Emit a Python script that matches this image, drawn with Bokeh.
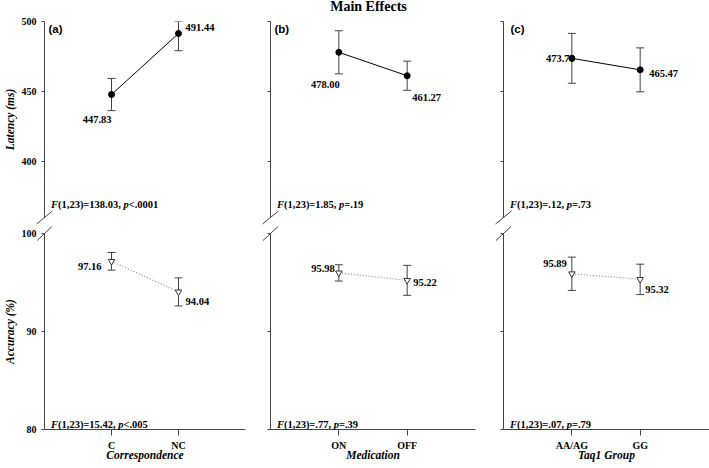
from bokeh.plotting import figure
from bokeh.layouts import gridplot
from bokeh.models import FixedTicker, Whisker, TeeHead, ColumnDataSource, Range1d
from bokeh.core.properties import value
from bokeh.embed import file_html
from bokeh.resources import INLINE

# ---------------- data ----------------
panel_tags = ["(a)", "(b)", "(c)"]
x_titles = ["Correspondence", "Medication", "Taq1 Group"]
categories = [["C", "NC"], ["ON", "OFF"], ["AA/AG", "GG"]]
latency_mean = [[447.83, 491.44], [478.00, 461.27], [473.70, 465.47]]
latency_err = [[11.5, 12.3], [15.4, 10.4], [17.8, 15.7]]
accuracy_mean = [[97.16, 94.04], [95.98, 95.22], [95.89, 95.32]]
accuracy_err = [[0.9, 1.43], [0.83, 1.53], [1.7, 1.55]]
latency_stats = [("138.03", "<.0001"), ("1.85", "=.19"), (".12", "=.73")]
accuracy_stats = [("15.42", "<.005"), (".77", "=.39"), (".07", "=.79")]
latency_ticks = [400, 450, 500]
accuracy_ticks = [80, 90, 100]
latency_range = (360, 500)
accuracy_range = (80, 100)
title_text = "Main Effects"
y_titles = ["Latency (ms)", "Accuracy (%)"]

# ---------------- styles / layout ----------------
SERIF = "Liberation Serif"
SANS = "Liberation Sans"
AXC = "#444444"
fig_w = [258, 233, 218]
bord_l = [40, 12, 12]
bord_r = [13, 16, 0]
frame_w = [fig_w[i] - bord_l[i] - bord_r[i] for i in range(3)]
PPU_X = 205 / 3.0
FRAME_H = 196
tag_dx = [4, 4, 7]
# (align, x_offset, y_offset) for value labels
lat_lab = [[("right", 0, 25), ("left", 7, -6)],
           [("right", 1, 32), ("left", 5, 22)],
           [("right", 3, 0), ("left", 9, 4)]]
acc_lab = [[("right", -10, 5), ("left", 7, 10)],
           [("right", -4, -4), ("left", 6, 2)],
           [("right", -5, -10), ("left", 5, 10)]]

BOLD_W = {'(': 333, ')': 333, ',': 250, '.': 250, '=': 570, '<': 570, ' ': 250}
for d in "0123456789":
    BOLD_W[d] = 500
ITAL_W = {'F': 667, 'p': 500}
FS_SIZE = 10.5


def seg_w(s, italic):
    tab = ITAL_W if italic else BOLD_W
    return sum(tab.get(ch, 500) for ch in s) * FS_SIZE / 1000.0


def stat_text(p, x0, y0, stat, y_off):
    segs = ["F", "(1,23)=" + stat[0] + ", ", "p", stat[1]]
    ital = [True, False, True, False]
    offs = []
    cur = 6.5
    for s, it in zip(segs, ital):
        offs.append(cur)
        cur += seg_w(s, it)
    p.text(x=[x0] * 4, y=[y0] * 4, text=segs, x_offset=offs, y_offset=[y_off] * 4,
           text_font=value(SERIF), text_font_size=f"{FS_SIZE}px",
           text_font_style=["bold italic" if it else "bold" for it in ital],
           text_align="left", text_baseline="alphabetic", text_color="black", level="overlay")


def style_yaxis(p, ticks, col, title):
    ax = p.yaxis[0]
    ax.axis_line_color = AXC
    ax.major_tick_line_color = AXC
    ax.minor_tick_line_color = AXC
    ax.major_tick_out = 3
    ax.major_tick_in = 0
    if col == 0:
        ax.ticker = FixedTicker(ticks=ticks, minor_ticks=[])
        ax.minor_tick_out = 0
        ax.minor_tick_in = 0
        ax.major_label_text_font = SERIF
        ax.major_label_text_font_style = "bold"
        ax.major_label_text_font_size = "10px"
        ax.major_label_text_color = "black"
        ax.major_label_standoff = 5
        ax.axis_label = title
        ax.axis_label_text_font = SERIF
        ax.axis_label_text_font_style = "bold italic"
        ax.axis_label_text_font_size = "11.5px"
        ax.axis_label_text_color = "black"
        ax.axis_label_standoff = 3
    else:
        # unlabeled tick marks only
        ax.ticker = FixedTicker(ticks=[], minor_ticks=ticks)
        ax.minor_tick_out = 3
        ax.minor_tick_in = 0
        ax.major_label_standoff = 0


def draw_series(p, col, means, errs, yr, labstyle, filled):
    xs = [1, 2]
    upper = [min(m + e, yr[1]) for m, e in zip(means, errs)]
    lower = [max(m - e, yr[0]) for m, e in zip(means, errs)]
    src = ColumnDataSource(dict(x=xs, y=means, upper=upper, lower=lower))
    if filled:
        p.line(xs, means, line_color="black", line_width=1)
    else:
        p.line(xs, means, line_color="#8a8a8a", line_width=1.2, line_dash="1 2")
    p.add_layout(Whisker(source=src, base="x", upper="upper", lower="lower",
                         line_color=AXC, line_width=1,
                         upper_head=TeeHead(size=8, line_color=AXC, line_width=1),
                         lower_head=TeeHead(size=8, line_color=AXC, line_width=1)))
    p.text(x=xs, y=means, text=[f"{m:.2f}" for m in means],
           text_align=[s[0] for s in labstyle], x_offset=[s[1] for s in labstyle],
           y_offset=[s[2] for s in labstyle], text_baseline="middle",
           text_font=value(SERIF), text_font_style="bold", text_font_size="10.5px",
           text_color="black", level="overlay")
    if filled:
        p.scatter(xs, means, marker="circle", size=6, fill_color="black", line_color="black")
    else:
        p.scatter(xs, means, marker="inverted_triangle", size=6.5, fill_color="white",
                  line_color="#333333", line_width=1)


tops, bots = [], []
for col in range(3):
    xend = frame_w[col] / PPU_X
    # ---------- top (latency) ----------
    yr = latency_range
    ppu_y = FRAME_H / (yr[1] - yr[0])
    pt = figure(width=fig_w[col], height=225, x_range=Range1d(0, xend),
                y_range=Range1d(*yr), output_backend="svg", toolbar_location=None,
                tools="", x_axis_location=None,
                min_border_left=bord_l[col], min_border_right=bord_r[col],
                min_border_top=21, min_border_bottom=8)
    pt.outline_line_color = None
    pt.xgrid.visible = False
    pt.ygrid.visible = False
    style_yaxis(pt, latency_ticks, col, y_titles[0])
    draw_series(pt, col, latency_mean[col], latency_err[col], yr, lat_lab[col], True)
    stat_text(pt, 0, yr[0], latency_stats[col], -13)
    pt.text(x=[0], y=[yr[1]], text=[panel_tags[col]], x_offset=tag_dx[col], y_offset=7,
            text_font=value(SANS), text_font_style="bold", text_font_size="11.5px",
            text_baseline="middle", text_align="left", text_color="black", level="overlay")
    dx, dy = 8 / PPU_X, 6.5 / ppu_y
    pt.segment(x0=[-dx], y0=[yr[0] - dy], x1=[dx], y1=[yr[0] + dy],
               line_color=AXC, line_width=1, level="overlay")
    if col == 1:
        pt.text(x=[3 / 2], y=[yr[1]], text=[title_text], x_offset=-4.5, y_offset=-15,
                text_font=value(SERIF), text_font_style="bold", text_font_size="14px",
                text_align="center", text_baseline="middle", text_color="black",
                level="overlay")
    tops.append(pt)

    # ---------- bottom (accuracy) ----------
    yr = accuracy_range
    ppu_y = FRAME_H / (yr[1] - yr[0])
    pb = figure(width=fig_w[col], height=243, x_range=Range1d(0, xend),
                y_range=Range1d(*yr), output_backend="svg", toolbar_location=None,
                tools="", min_border_left=bord_l[col], min_border_right=bord_r[col],
                min_border_top=8, min_border_bottom=39)
    pb.outline_line_color = None
    pb.xgrid.visible = False
    pb.ygrid.visible = False
    style_yaxis(pb, accuracy_ticks, col, y_titles[1])
    xa = pb.xaxis[0]
    xa.ticker = FixedTicker(ticks=[1, 2], minor_ticks=[])
    xa.major_label_overrides = {1: categories[col][0], 2: categories[col][1]}
    xa.axis_line_color = AXC
    xa.major_tick_line_color = AXC
    xa.major_tick_out = 6
    xa.major_tick_in = 0
    xa.minor_tick_out = 0
    xa.minor_tick_in = 0
    xa.major_label_text_font = SERIF
    xa.major_label_text_font_style = "bold"
    xa.major_label_text_font_size = "10px"
    xa.major_label_text_color = "black"
    xa.major_label_standoff = 4
    xa.axis_label = x_titles[col]
    xa.axis_label_text_font = SERIF
    xa.axis_label_text_font_style = "bold italic"
    xa.axis_label_text_font_size = "11.5px"
    xa.axis_label_text_color = "black"
    xa.axis_label_standoff = -5
    draw_series(pb, col, accuracy_mean[col], accuracy_err[col], yr, acc_lab[col], False)
    stat_text(pb, 0, yr[0], accuracy_stats[col], -5)
    dx, dy = 7.5 / PPU_X, 7 / ppu_y
    pb.segment(x0=[-dx], y0=[yr[1] - dy], x1=[dx], y1=[yr[1] + dy],
               line_color=AXC, line_width=1, level="overlay")
    bots.append(pb)

grid = gridplot([tops, bots], toolbar_location=None)
open("out.html", "w").write(file_html(grid, INLINE))
